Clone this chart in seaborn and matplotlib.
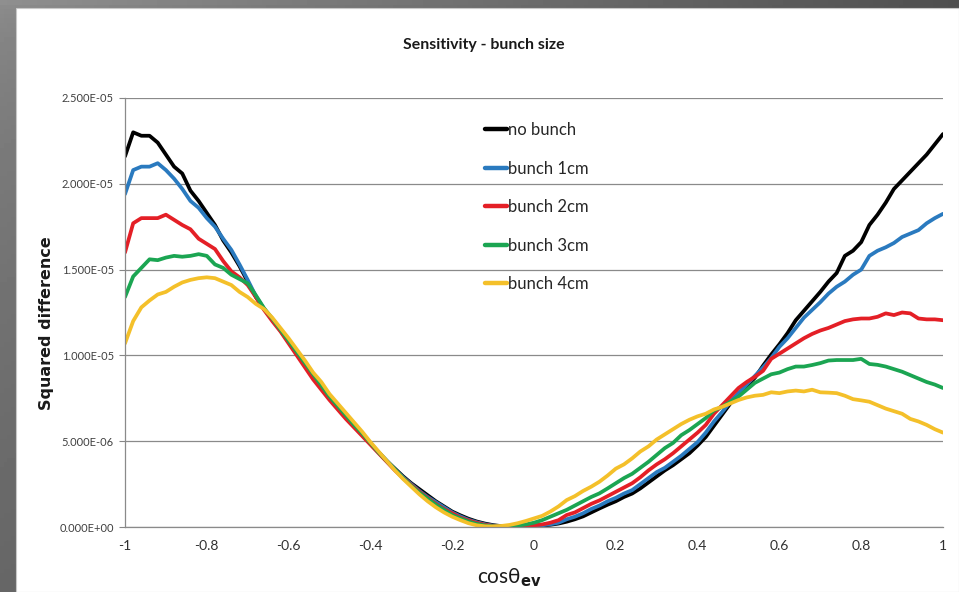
import numpy as np
import pandas as pd
import matplotlib
matplotlib.use("Agg")
import matplotlib.pyplot as plt
from matplotlib.patches import Rectangle
import seaborn as sns

# cos(theta_ev) grid, step 0.02 from -1 to 1
cos_theta = np.round(np.linspace(-1.0, 1.0, 101), 2)

# Squared difference, in units of 1e-5
no_bunch = [
    2.16, 2.30, 2.28, 2.28, 2.24, 2.17, 2.10, 2.06, 1.96, 1.90,
    1.83, 1.76, 1.67, 1.60, 1.52, 1.43, 1.34, 1.27,
    1.21, 1.145, 1.08, 1.01, 0.945, 0.875, 0.815, 0.75, 0.70, 0.645,
    0.59, 0.54, 0.485, 0.435, 0.385, 0.34, 0.295, 0.255, 0.22, 0.185,
    0.15, 0.12, 0.09, 0.068, 0.048, 0.032, 0.02, 0.011, 0.005, 0.002,
    0.002, 0.003,
    0.005, 0.008, 0.013, 0.02, 0.031, 0.045, 0.062, 0.085, 0.108, 0.13,
    0.15, 0.175, 0.195, 0.225, 0.26, 0.295, 0.33, 0.36, 0.395, 0.43,
    0.475, 0.525, 0.59, 0.655, 0.72, 0.78, 0.82, 0.87, 0.94, 1.005,
    1.065, 1.13, 1.205, 1.26, 1.315, 1.37, 1.43, 1.48, 1.58, 1.61,
    1.66, 1.76, 1.82, 1.89, 1.97, 2.02, 2.07, 2.12, 2.17, 2.23, 2.29,
]
bunch_1cm = [
    1.94, 2.08, 2.10, 2.10, 2.12, 2.08, 2.03, 1.97, 1.90, 1.86,
    1.80, 1.75, 1.68, 1.615, 1.53, 1.44, 1.345, 1.27,
    1.21, 1.15, 1.08, 1.01, 0.945, 0.88, 0.815, 0.75, 0.70, 0.645,
    0.59, 0.54, 0.485, 0.435, 0.385, 0.335, 0.29, 0.25, 0.21, 0.175,
    0.145, 0.115, 0.085, 0.062, 0.042, 0.028, 0.016, 0.008, 0.004, 0.002,
    0.003, 0.004,
    0.006, 0.01, 0.016, 0.025, 0.045, 0.06, 0.08, 0.105, 0.125, 0.15,
    0.17, 0.195, 0.215, 0.25, 0.285, 0.32, 0.345, 0.38, 0.415, 0.455,
    0.495, 0.55, 0.615, 0.67, 0.73, 0.78, 0.83, 0.88, 0.93, 0.985,
    1.05, 1.10, 1.16, 1.22, 1.265, 1.31, 1.36, 1.40, 1.43, 1.47,
    1.50, 1.58, 1.61, 1.63, 1.655, 1.69, 1.71, 1.73, 1.77, 1.80, 1.825,
]
bunch_2cm = [
    1.60, 1.77, 1.80, 1.80, 1.80, 1.82, 1.79, 1.76, 1.735, 1.68,
    1.65, 1.62, 1.55, 1.49, 1.455, 1.41, 1.34, 1.265,
    1.20, 1.14, 1.07, 1.00, 0.93, 0.86, 0.80, 0.74, 0.685, 0.63,
    0.58, 0.53, 0.48, 0.43, 0.38, 0.33, 0.285, 0.245, 0.205, 0.17,
    0.135, 0.105, 0.08, 0.055, 0.038, 0.024, 0.013, 0.006, 0.003, 0.002,
    0.004, 0.006,
    0.01, 0.015, 0.025, 0.04, 0.07, 0.085, 0.11, 0.135, 0.155, 0.18,
    0.205, 0.23, 0.255, 0.29, 0.33, 0.365, 0.395, 0.43, 0.47, 0.51,
    0.55, 0.595, 0.66, 0.71, 0.76, 0.81, 0.845, 0.875, 0.91, 0.98,
    1.01, 1.04, 1.07, 1.10, 1.125, 1.145, 1.16, 1.18, 1.20, 1.21,
    1.215, 1.215, 1.225, 1.245, 1.235, 1.25, 1.245, 1.215, 1.21, 1.21, 1.205,
]
bunch_3cm = [
    1.34, 1.46, 1.51, 1.56, 1.555, 1.57, 1.58, 1.575, 1.58, 1.59,
    1.58, 1.53, 1.51, 1.47, 1.445, 1.42, 1.35, 1.275,
    1.215, 1.15, 1.085, 1.02, 0.955, 0.89, 0.825, 0.76, 0.705, 0.65,
    0.595, 0.545, 0.49, 0.435, 0.385, 0.335, 0.285, 0.24, 0.20, 0.165,
    0.13, 0.10, 0.07, 0.05, 0.032, 0.018, 0.009, 0.004, 0.003, 0.004,
    0.008, 0.015,
    0.025, 0.04, 0.06, 0.08, 0.10, 0.125, 0.15, 0.175, 0.196, 0.225,
    0.255, 0.285, 0.31, 0.345, 0.38, 0.42, 0.46, 0.49, 0.535, 0.565,
    0.60, 0.635, 0.68, 0.70, 0.73, 0.76, 0.80, 0.84, 0.865, 0.89,
    0.90, 0.92, 0.935, 0.935, 0.944, 0.955, 0.97, 0.973, 0.973, 0.973,
    0.98, 0.95, 0.945, 0.935, 0.92, 0.905, 0.885, 0.865, 0.845, 0.83, 0.81,
]
bunch_4cm = [
    1.07, 1.20, 1.28, 1.32, 1.355, 1.37, 1.40, 1.425, 1.44, 1.45,
    1.455, 1.45, 1.43, 1.41, 1.37, 1.34, 1.30, 1.27,
    1.22, 1.16, 1.10, 1.035, 0.97, 0.90, 0.845, 0.775, 0.72, 0.665,
    0.61, 0.555, 0.495, 0.44, 0.385, 0.33, 0.28, 0.235, 0.19, 0.15,
    0.115, 0.085, 0.06, 0.04, 0.022, 0.01, 0.004, 0.003, 0.006, 0.012,
    0.022, 0.035,
    0.05, 0.065, 0.09, 0.12, 0.157, 0.18, 0.21, 0.235, 0.264, 0.30,
    0.34, 0.365, 0.40, 0.44, 0.47, 0.51, 0.54, 0.57, 0.60, 0.625,
    0.645, 0.66, 0.685, 0.70, 0.72, 0.74, 0.755, 0.765, 0.77, 0.785,
    0.78, 0.79, 0.795, 0.79, 0.80, 0.785, 0.783, 0.78, 0.765, 0.745,
    0.738, 0.73, 0.71, 0.69, 0.675, 0.66, 0.63, 0.615, 0.595, 0.57, 0.55,
]

series_names = ["no bunch", "bunch 1cm", "bunch 2cm", "bunch 3cm", "bunch 4cm"]
series_values = [no_bunch, bunch_1cm, bunch_2cm, bunch_3cm, bunch_4cm]
series_colors = ["#000000", "#2a7abf", "#e41f26", "#1ba552", "#f4c02a"]

y_ticks = [0.0, 5e-6, 1e-5, 1.5e-5, 2e-5, 2.5e-5]
y_tick_labels = ["0.000E+00", "5.000E-06", "1.000E-05", "1.500E-05", "2.000E-05", "2.500E-05"]
x_ticks = [-1, -0.8, -0.6, -0.4, -0.2, 0, 0.2, 0.4, 0.6, 0.8, 1]
x_tick_labels = ["-1", "-0.8", "-0.6", "-0.4", "-0.2", "0", "0.2", "0.4", "0.6", "0.8", "1"]

frames = []
for name, vals in zip(series_names, series_values):
    frames.append(pd.DataFrame({
        "cos": cos_theta,
        "diff": np.asarray(vals) * 1e-5,
        "series": name,
    }))
df = pd.concat(frames, ignore_index=True)

sns.set_theme(style="white")
plt.rcParams["font.family"] = ["Lato", "DejaVu Sans"]

W, H = 959, 592
fig = plt.figure(figsize=(W / 100, H / 100), dpi=100)

# dark frame with a soft gradient, then the white sheet
bg = fig.add_axes([0, 0, 1, 1], zorder=-10)
gx = np.linspace(0, 1, 256)
gy = np.linspace(0, 1, 128)
grad = 0.56 - 0.25 * gx[None, :] - 0.16 * np.sqrt(gy[:, None]) * (1 - gx[None, :])
bg.imshow(grad, cmap="gray", vmin=0, vmax=1, aspect="auto",
          extent=[0, 1, 0, 1], origin="upper")
bg.add_patch(Rectangle((16 / W, 0), 1 - 16 / W, 1 - 8 / H,
                       facecolor="white", edgecolor="#c8c8c8", linewidth=0.8))
bg.set_xlim(0, 1)
bg.set_ylim(0, 1)
bg.axis("off")

ax = fig.add_axes([125 / W, 1 - 527 / H, (943 - 125) / W, (527 - 98) / H])
ax.set_facecolor("none")

sns.lineplot(data=df, x="cos", y="diff", hue="series", hue_order=series_names,
             palette=series_colors, linewidth=2.7, ax=ax, legend=False,
             estimator=None, sort=False)

ax.set_xlim(-1, 1)
ax.set_ylim(0, 2.5e-5)
ax.set_yticks(y_ticks)
ax.set_yticklabels(y_tick_labels, fontsize=8, color="#404040")
ax.set_xticks(x_ticks)
ax.set_xticklabels(x_tick_labels, fontsize=10, color="#303030")
ax.tick_params(axis="y", length=4, width=0.8, color="#868686", pad=4, left=True)
ax.tick_params(axis="x", length=0, pad=9)
ax.grid(axis="y", color="#8a8a8a", linewidth=0.9)
ax.set_axisbelow(True)
for side in ["top", "right"]:
    ax.spines[side].set_visible(False)
for side in ["left", "bottom"]:
    ax.spines[side].set_color("#8a8a8a")
    ax.spines[side].set_linewidth(0.9)

ax.set_ylabel("")
ax.set_xlabel("")
fig.text(47 / W, 1 - 323 / H, "Squared difference", rotation=90,
         ha="center", va="center", fontsize=11.5, fontweight="bold",
         family="DejaVu Sans", color="#1a1a1a")
fig.text(509 / W, 1 - 578 / H, "cosθ$_{\\mathbf{ev}}$", ha="center",
         va="center", fontsize=15, color="#1a1a1a")

fig.text(484 / W, 1 - 45 / H, "Sensitivity - bunch size", ha="center",
         va="center", fontsize=11.4, fontweight="bold", color="#1a1a1a")

handles = [plt.Line2D([], [], color=c, linewidth=3.2) for c in series_colors]
ax.legend(handles, series_names, loc="upper left",
          bbox_to_anchor=(0.432, 0.959), frameon=False, fontsize=12,
          handlelength=1.3, handletextpad=0.05, labelspacing=1.35,
          borderaxespad=0.0, labelcolor="#262626")

fig.savefig("out.png", dpi=100)
